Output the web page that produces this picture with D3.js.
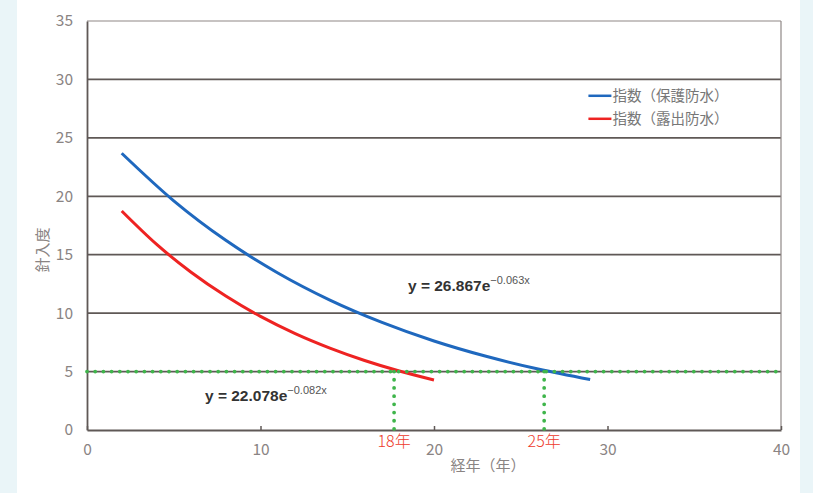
<!DOCTYPE html>
<html>
<head>
<meta charset="utf-8">
<script src="https://cdn.jsdelivr.net/npm/d3@7"></script>
<style>
  body { margin: 0; background: #eaf5f8; }
  svg { display: block; }
  text { font-family: "Noto Sans CJK JP", "Noto Sans", sans-serif; }
</style>
</head>
<body>
<svg id="chart" width="813" height="493"></svg>
<script>
// data
const years = [2, 4, 6, 8, 10, 12, 14, 16, 18, 20];
const exposed = [18.74, 15.90, 13.50, 11.46, 9.72, 8.25, 7.01, 5.95, 5.05, 4.28];
const yearsProtected = [2, 5, 8, 11, 14, 17, 20, 23, 26, 29];
const protectedVals = [23.68, 19.61, 16.23, 13.44, 11.12, 9.21, 7.62, 6.31, 5.22, 4.32];
const seriesNames = ["指数（保護防水）", "指数（露出防水）"];
const xTicks = [0, 10, 20, 30, 40];
const yTicks = [0, 5, 10, 15, 20, 25, 30, 35];
const threshold = 5;
const markYears = [17.7, 26.35];
const markLabels = ["18年", "25年"];

const svg = d3.select("#chart");
const margin = { top: 21, right: 32, bottom: 63, left: 87 };
const width = +svg.attr("width") - margin.left - margin.right;
const height = +svg.attr("height") - margin.top - margin.bottom;

// white panel
svg.append("rect")
  .attr("x", 17).attr("y", 0)
  .attr("width", 783).attr("height", 493)
  .attr("fill", "#fff");

const g = svg.append("g")
  .attr("transform", `translate(${margin.left},${margin.top})`);

const x = d3.scaleLinear().domain([0, 40]).range([0, width]);
const y = d3.scaleLinear().domain([0, 35]).range([height, 0]);

// horizontal grid
g.selectAll(".grid")
  .data(yTicks.filter(d => d > 0 && d < 35))
  .join("line")
  .attr("x1", 0).attr("x2", width)
  .attr("y1", d => y(d)).attr("y2", d => y(d))
  .attr("stroke", "#5f5856")
  .attr("stroke-width", 1.8);

// frame: top and right lighter
g.append("line")
  .attr("x1", 0).attr("x2", width)
  .attr("y1", y(35)).attr("y2", y(35))
  .attr("stroke", "#8f8886").attr("stroke-width", 1.2);
g.append("line")
  .attr("x1", width).attr("x2", width)
  .attr("y1", y(35)).attr("y2", y(0))
  .attr("stroke", "#8f8886").attr("stroke-width", 1.2);

// axes
const yAxis = g.append("g")
  .call(d3.axisLeft(y).tickValues(yTicks).tickSize(0).tickPadding(14));
yAxis.select(".domain").attr("stroke", "#5f5856").attr("stroke-width", 1.8);

const xAxis = g.append("g")
  .attr("transform", `translate(0,${height})`)
  .call(d3.axisBottom(x).tickValues(xTicks).tickSizeInner(-4).tickSizeOuter(0).tickPadding(14));
xAxis.select(".domain").attr("stroke", "#5f5856").attr("stroke-width", 1.8);
xAxis.selectAll(".tick line").attr("stroke", "#5f5856").attr("stroke-width", 1.5);

g.selectAll(".tick text")
  .attr("fill", "#8a8483")
  .style("font-size", "15.5px")
  .style("font-family", "'Noto Sans CJK JP', sans-serif");

// curves
const line = d3.line()
  .x(d => x(d[0]))
  .y(d => y(d[1]))
  .curve(d3.curveMonotoneX);

g.append("path")
  .datum(yearsProtected.map((d, i) => [d, protectedVals[i]]))
  .attr("d", line)
  .attr("fill", "none")
  .attr("stroke", "#1f68be")
  .attr("stroke-width", 3);

g.append("path")
  .datum(years.map((d, i) => [d, exposed[i]]))
  .attr("d", line)
  .attr("fill", "none")
  .attr("stroke", "#ee2322")
  .attr("stroke-width", 3);

// green dotted threshold line and markers
const dotted = g.append("g")
  .attr("stroke", "#3fb54b")
  .attr("stroke-width", 3.8)
  .attr("stroke-linecap", "round")
  .attr("stroke-dasharray", "0 8.2");

dotted.append("line")
  .attr("x1", x(0)).attr("x2", x(40) + 1)
  .attr("y1", y(threshold)).attr("y2", y(threshold));

dotted.selectAll(".vmark")
  .data(markYears)
  .join("line")
  .attr("x1", d => x(d)).attr("x2", d => x(d))
  .attr("y1", y(threshold)).attr("y2", y(0));

g.selectAll(".marklabel")
  .data(markYears)
  .join("text")
  .attr("x", d => x(d))
  .attr("y", y(0) + 17)
  .attr("text-anchor", "middle")
  .attr("fill", "#ee3a2a")
  .style("font-size", "16px")
  .style("font-weight", "300")
  .text((d, i) => markLabels[i]);

// fit equations
function equation(px, py, coef, expo) {
  const t = g.append("text")
    .attr("x", px).attr("y", py)
    .attr("fill", "#333")
    .style("font-size", "15.5px")
    .style("font-weight", "bold")
    .style("font-family", "'Liberation Sans', Arial, sans-serif");
  t.append("tspan").text(`y = ${coef}e`);
  t.append("tspan")
    .attr("dy", -7)
    .style("font-size", "11px")
    .style("font-weight", "normal")
    .attr("fill", "#555")
    .text(expo);
}
equation(x(18.5), y(11.9), "26.867", "−0.063x");
equation(x(6.8), y(2.45), "22.078", "−0.082x");

// legend
const legend = g.append("g")
  .attr("transform", `translate(${x(28.9)},${y(28.6)})`);
[["#1f68be", seriesNames[0]], ["#ee2322", seriesNames[1]]].forEach(([c, name], i) => {
  const row = legend.append("g").attr("transform", `translate(0,${i * 23})`);
  row.append("line")
    .attr("x1", 0).attr("x2", 23)
    .attr("stroke", c).attr("stroke-width", 2.5);
  row.append("text")
    .attr("x", 24).attr("y", 5)
    .attr("fill", "#777")
    .style("font-size", "14.5px")
    .text(name);
});

// axis titles
svg.append("text")
  .attr("transform", `translate(48,250) rotate(-90)`)
  .attr("text-anchor", "middle")
  .attr("fill", "#8a8483")
  .style("font-size", "15px")
  .text("針入度");

svg.append("text")
  .attr("x", 488).attr("y", 471)
  .attr("text-anchor", "middle")
  .attr("fill", "#8a8483")
  .style("font-size", "15px")
  .text("経年（年）");
</script>
</body>
</html>
